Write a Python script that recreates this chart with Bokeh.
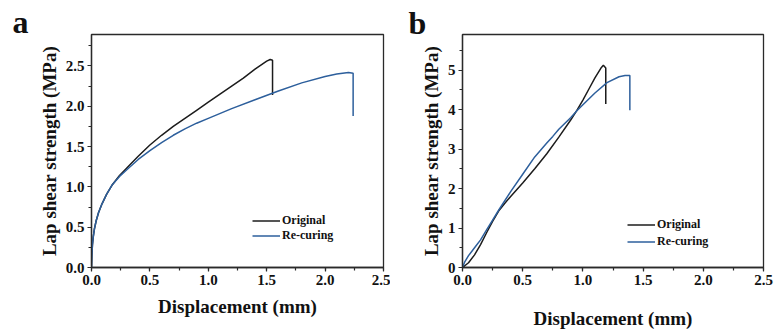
from bokeh.plotting import figure
from bokeh.models import Range1d, SingleIntervalTicker, Legend, LegendItem, PrintfTickFormatter
from bokeh.layouts import row
from bokeh.embed import file_html
from bokeh.resources import INLINE

# (a) displacement (mm) vs lap shear strength (MPa)
a_orig_x = [0, 0.003, 0.008, 0.015, 0.025, 0.04, 0.06, 0.09, 0.13, 0.18, 0.24, 0.3,
            0.4, 0.5, 0.6, 0.7, 0.8, 0.9, 1.0, 1.1, 1.2, 1.3, 1.4, 1.5, 1.53, 1.55, 1.55]
a_orig_y = [0, 0.15, 0.28, 0.38, 0.48, 0.58, 0.68, 0.79, 0.91, 1.03, 1.14, 1.23,
            1.38, 1.52, 1.64, 1.75, 1.85, 1.95, 2.05, 2.15, 2.25, 2.35, 2.46, 2.56, 2.58, 2.57, 2.14]
a_recur_x = [0, 0.003, 0.008, 0.015, 0.025, 0.04, 0.06, 0.09, 0.13, 0.18, 0.24, 0.3,
             0.4, 0.5, 0.6, 0.7, 0.8, 0.9, 1.0, 1.2, 1.4, 1.6, 1.8, 2.0, 2.1, 2.2, 2.24, 2.24]
a_recur_y = [0, 0.15, 0.28, 0.38, 0.48, 0.58, 0.68, 0.79, 0.91, 1.03, 1.13, 1.21,
             1.34, 1.45, 1.55, 1.64, 1.72, 1.79, 1.85, 1.97, 2.08, 2.19, 2.29, 2.37, 2.40, 2.42, 2.41, 1.88]

# (b)
b_orig_x = [0, 0.05, 0.1, 0.15, 0.2, 0.25, 0.3, 0.35, 0.4, 0.5, 0.6, 0.7, 0.8, 0.9,
            0.95, 1.0, 1.05, 1.1, 1.15, 1.17, 1.19, 1.19]
b_orig_y = [0, 0.12, 0.32, 0.58, 0.88, 1.17, 1.43, 1.62, 1.8, 2.14, 2.5, 2.88, 3.3, 3.74,
            3.98, 4.24, 4.52, 4.8, 5.05, 5.12, 5.05, 4.14]
b_recur_x = [0, 0.02, 0.05, 0.1, 0.15, 0.2, 0.25, 0.3, 0.4, 0.5, 0.6, 0.7, 0.75, 0.8,
             0.9, 0.95, 1.0, 1.1, 1.2, 1.3, 1.35, 1.39, 1.39]
b_recur_y = [0, 0.15, 0.3, 0.5, 0.7, 0.95, 1.2, 1.45, 1.92, 2.36, 2.8, 3.15, 3.32, 3.5,
             3.8, 3.97, 4.12, 4.42, 4.68, 4.83, 4.86, 4.86, 3.98]

series_names = ["Original", "Re-curing"]
x_title = "Displacement (mm)"
y_title = "Lap shear strength (MPa)"

FONT = "Liberation Serif"
BLACK = "#1c1c1c"
BLUE = "#2d5f9c"
AXIS = "#2a2a2a"


def make_panel(width, borders, y_max, y_step, y_fmt, letter, letter_offset, letter_standoff,
               curves, legend_loc, legend_row, title_standoff):
    left, right, top, bottom = borders
    p = figure(width=width, height=331, output_backend="svg", toolbar_location=None,
               x_range=Range1d(0, 2.5), y_range=Range1d(0, y_max),
               min_border_left=left, min_border_right=right,
               min_border_top=top, min_border_bottom=bottom)
    p.grid.visible = False
    p.outline_line_color = AXIS
    p.outline_line_width = 1.3
    p.background_fill_color = "white"
    p.border_fill_color = "white"

    # panel letter drawn as the figure title, pulled out to the left edge
    p.title.text = letter
    p.title.align = "left"
    p.title.offset = letter_offset
    p.title.standoff = letter_standoff
    p.title.text_font = FONT
    p.title.text_font_style = "bold"
    p.title.text_font_size = "32px"
    p.title.text_color = "#111111"

    p.xaxis.ticker = SingleIntervalTicker(interval=0.5, num_minor_ticks=2)
    p.yaxis.ticker = SingleIntervalTicker(interval=y_step, num_minor_ticks=2)
    p.xaxis.formatter = PrintfTickFormatter(format="%.1f")
    p.yaxis.formatter = PrintfTickFormatter(format=y_fmt)
    for ax in (p.xaxis[0], p.yaxis[0]):
        ax.axis_line_color = AXIS
        ax.axis_line_width = 1.3
        ax.major_tick_line_color = AXIS
        ax.minor_tick_line_color = AXIS
        ax.major_tick_line_width = 1.2
        ax.minor_tick_line_width = 1.2
        ax.major_tick_in = 0
        ax.major_tick_out = 4
        ax.minor_tick_in = 0
        ax.minor_tick_out = 3
        ax.major_label_text_font = FONT
        ax.major_label_text_font_style = "bold"
        ax.major_label_text_font_size = "15px"
        ax.major_label_text_color = "#111111"
        ax.axis_label_text_font = FONT
        ax.axis_label_text_font_style = "bold"
        ax.axis_label_text_font_size = "19px"
        ax.axis_label_text_color = "#111111"
        ax.major_label_standoff = 3
    p.xaxis.axis_label = x_title
    p.yaxis.axis_label = y_title
    p.xaxis.axis_label_standoff = title_standoff[0]
    p.yaxis.axis_label_standoff = title_standoff[1]

    renderers = []
    for (xs, ys), color in zip(curves, (BLACK, BLUE)):
        renderers.append(p.line(xs, ys, line_color=color, line_width=1.5))

    legend = Legend(items=[LegendItem(label=n, renderers=[r])
                           for n, r in zip(series_names, renderers)],
                    location=legend_loc, orientation="vertical",
                    label_text_font=FONT, label_text_font_style="bold",
                    label_text_font_size="12px", label_text_color="#111111",
                    glyph_width=28, glyph_height=legend_row, label_height=legend_row,
                    label_standoff=2, spacing=0, padding=0, margin=0,
                    border_line_alpha=0, background_fill_alpha=0)
    p.add_layout(legend)
    return p


pa = make_panel(390, (91, 7, 34, 62), 2.89, 0.5, "%.1f", "a", -79, -11,
                [(a_orig_x, a_orig_y), (a_recur_x, a_recur_y)],
                (161, 24), 15, (8, 3))
pb = make_panel(385, (72, 12, 34, 54), 5.9, 1, "%d", "b", -54, -12,
                [(b_orig_x, b_orig_y), (b_recur_x, b_recur_y)],
                (165, 17), 17, (20, 3))

layout = row(pa, pb, spacing=0)
open("out.html", "w").write(file_html(layout, INLINE))
